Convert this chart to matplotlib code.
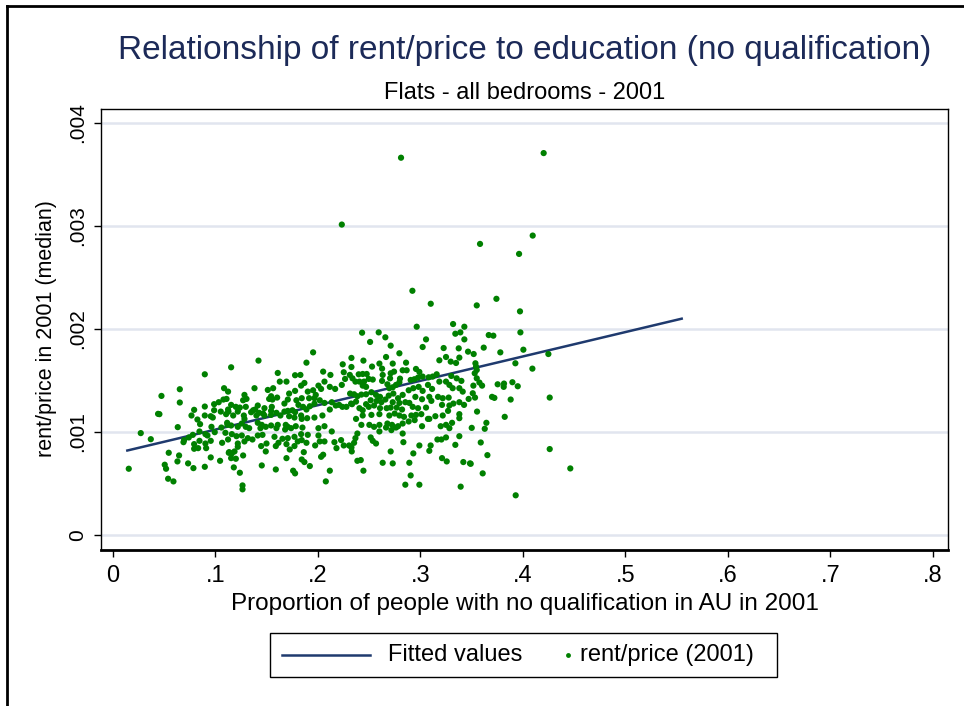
import numpy as np
import matplotlib
matplotlib.use("Agg")
import matplotlib.pyplot as plt
from matplotlib.lines import Line2D
from matplotlib.patches import Rectangle

# rent/price values are written in thousandths (x 1e-3)
# (proportion no qualification, rent/price e3)
pts_a = [
    (0.0896, 1.560), (0.0652, 1.415), (0.0473, 1.350), (0.0652, 1.286), (0.0440, 1.176),
    (0.0453, 1.173), (0.0792, 1.215), (0.0896, 1.247), (0.0987, 1.270), (0.1032, 1.289),
    (0.1078, 1.315), (0.1123, 1.392), (0.1084, 1.425), (0.0766, 1.160), (0.0824, 1.121),
    (0.0850, 1.076), (0.0896, 1.160), (0.0954, 1.153), (0.0987, 1.211), (0.0974, 1.140),
    (0.1052, 1.198), (0.1123, 1.218), (0.1104, 1.173), (0.0632, 1.047), (0.0271, 0.989),
    (0.0369, 0.930), (0.0740, 0.947), (0.0694, 0.921), (0.0688, 0.901), (0.0779, 0.972),
    (0.0844, 1.005), (0.0902, 0.979), (0.0922, 0.966), (0.0961, 1.050), (0.0993, 0.998),
    (0.1058, 1.043), (0.1097, 0.992), (0.1117, 1.069), (0.0844, 0.914), (0.0792, 0.882),
    (0.0831, 0.843), (0.0792, 0.837), (0.0902, 0.888), (0.0909, 0.843), (0.0954, 0.914),
    (0.1065, 0.895), (0.1123, 0.927), (0.0544, 0.798), (0.0645, 0.772), (0.0629, 0.714),
    (0.0733, 0.695), (0.0785, 0.649), (0.0896, 0.662), (0.0954, 0.753), (0.1045, 0.720),
    (0.1130, 0.798), (0.0505, 0.682), (0.0518, 0.643), (0.0154, 0.643), (0.0538, 0.546),
    (0.0590, 0.520),
]
pts_b = [
    (0.1953, 1.773), (0.1420, 1.693), (0.1153, 1.628), (0.1888, 1.673), (0.2242, 1.657),
    (0.2327, 1.719), (0.1381, 1.425), (0.1608, 1.573), (0.1693, 1.489), (0.1628, 1.489),
    (0.1777, 1.551), (0.1829, 1.554), (0.1868, 1.476), (0.1836, 1.450), (0.2051, 1.586),
    (0.2122, 1.554), (0.2064, 1.489), (0.2005, 1.450), (0.2031, 1.418), (0.2116, 1.438),
    (0.2168, 1.418), (0.2252, 1.580), (0.2265, 1.515), (0.2233, 1.457), (0.2311, 1.554),
    (0.2337, 1.521), (0.1511, 1.408), (0.1563, 1.425), (0.1719, 1.373), (0.1777, 1.399),
    (0.1901, 1.392), (0.1953, 1.405), (0.1979, 1.360), (0.1966, 1.328), (0.1914, 1.328),
    (0.1842, 1.328), (0.1790, 1.308), (0.1706, 1.315), (0.1673, 1.276), (0.1602, 1.334),
    (0.1543, 1.347), (0.1524, 1.321), (0.1556, 1.315), (0.1413, 1.257), (0.1387, 1.218),
    (0.1426, 1.186), (0.1368, 1.211), (0.1283, 1.360), (0.1303, 1.321), (0.1270, 1.308),
    (0.1108, 1.321), (0.1153, 1.263), (0.1199, 1.244), (0.1238, 1.237), (0.1296, 1.244),
    (0.1127, 1.198), (0.1218, 1.198), (0.1277, 1.160), (0.1173, 1.160), (0.1348, 1.192),
    (0.1478, 1.231), (0.1465, 1.179), (0.1550, 1.244), (0.1543, 1.205), (0.1595, 1.186),
    (0.1634, 1.160), (0.1673, 1.198), (0.1706, 1.205), (0.1751, 1.211), (0.1777, 1.192),
    (0.1810, 1.263), (0.1855, 1.244), (0.1836, 1.160), (0.1888, 1.218), (0.1921, 1.250),
    (0.1966, 1.276), (0.2018, 1.308), (0.2064, 1.282), (0.2116, 1.218), (0.2135, 1.289),
    (0.2174, 1.257), (0.2207, 1.263), (0.2239, 1.244), (0.2278, 1.244), (0.2324, 1.276),
    (0.2044, 1.160), (0.1966, 1.140), (0.1895, 1.134), (0.1842, 1.127), (0.1719, 1.153),
    (0.1771, 1.140), (0.1543, 1.166), (0.1478, 1.160), (0.1400, 1.160), (0.1283, 1.127),
    (0.1257, 1.082), (0.1296, 1.050), (0.1329, 1.037), (0.1153, 1.063), (0.1218, 1.050),
    (0.1114, 1.089), (0.1452, 1.069), (0.1491, 1.050), (0.1543, 1.063), (0.1608, 1.069),
    (0.1686, 1.069), (0.1706, 1.050), (0.1738, 1.037), (0.1784, 1.056), (0.1849, 1.043),
    (0.1680, 1.024), (0.1595, 1.037), (0.1413, 1.089), (0.1439, 1.037), (0.1160, 0.979),
    (0.1205, 0.959), (0.1257, 0.966), (0.1316, 0.940), (0.1361, 0.927), (0.1283, 0.908),
    (0.1413, 0.966), (0.1459, 0.972), (0.1576, 0.953), (0.1654, 0.934), (0.1706, 0.940),
    (0.1771, 0.953), (0.1836, 0.979), (0.1901, 0.972), (0.2005, 1.037), (0.2064, 1.056),
    (0.2135, 1.005), (0.2005, 0.966), (0.2018, 0.908), (0.1973, 0.869), (0.2064, 0.908),
    (0.2161, 0.901), (0.2181, 0.843), (0.2226, 0.921), (0.2252, 0.869), (0.2304, 0.869),
    (0.2330, 0.811), (0.1218, 0.888), (0.1218, 0.856), (0.1134, 0.804), (0.1160, 0.792),
    (0.1186, 0.811), (0.1199, 0.740), (0.1153, 0.746), (0.1270, 0.772), (0.1446, 0.863),
    (0.1498, 0.888), (0.1589, 0.863), (0.1615, 0.895), (0.1693, 0.882), (0.1725, 0.830),
    (0.1771, 0.863), (0.1803, 0.908), (0.1842, 0.921), (0.1888, 0.895), (0.1862, 0.804),
    (0.1842, 0.733), (0.1868, 0.708), (0.1921, 0.669), (0.1693, 0.746), (0.1491, 0.811),
    (0.1452, 0.675), (0.1589, 0.636), (0.1758, 0.624), (0.1777, 0.598), (0.2051, 0.779),
    (0.2031, 0.759), (0.2116, 0.624), (0.2077, 0.520), (0.1238, 0.604), (0.1264, 0.481),
    (0.1264, 0.443), (0.1179, 0.656),
]
pts_c = [
    (0.2431, 1.964), (0.2593, 1.967), (0.2658, 1.919), (0.2509, 1.874), (0.2710, 1.838),
    (0.3055, 1.899), (0.3022, 1.825), (0.3341, 1.954), (0.3390, 1.967), (0.3429, 1.899),
    (0.3374, 1.812), (0.3465, 1.780), (0.3227, 1.815), (0.2795, 1.764), (0.2665, 1.728),
    (0.2444, 1.693), (0.2600, 1.664), (0.2730, 1.664), (0.2626, 1.615), (0.2860, 1.673),
    (0.3185, 1.696), (0.3250, 1.728), (0.3296, 1.683), (0.3348, 1.670), (0.3380, 1.722),
    (0.2327, 1.631), (0.2398, 1.560), (0.2437, 1.563), (0.2476, 1.563), (0.2528, 1.635),
    (0.2632, 1.554), (0.2710, 1.570), (0.2743, 1.586), (0.2827, 1.599), (0.2866, 1.599),
    (0.2957, 1.612), (0.2990, 1.583), (0.2801, 1.518), (0.2704, 1.521), (0.2496, 1.515),
    (0.2535, 1.509), (0.2626, 1.496), (0.2366, 1.489), (0.2405, 1.489), (0.2450, 1.489),
    (0.2437, 1.450), (0.2470, 1.438), (0.2678, 1.463), (0.2697, 1.425), (0.2730, 1.434),
    (0.2762, 1.457), (0.2795, 1.483), (0.2905, 1.505), (0.2941, 1.512), (0.2977, 1.528),
    (0.3022, 1.538), (0.3081, 1.531), (0.3120, 1.538), (0.3159, 1.560), (0.3185, 1.489),
    (0.3250, 1.489), (0.3302, 1.544), (0.3354, 1.521), (0.3400, 1.496), (0.3283, 1.457),
    (0.3315, 1.425), (0.3380, 1.425), (0.3413, 1.392), (0.2314, 1.373), (0.2353, 1.366),
    (0.2385, 1.347), (0.2424, 1.363), (0.2470, 1.366), (0.2522, 1.386), (0.2567, 1.360),
    (0.2606, 1.341), (0.2658, 1.315), (0.2691, 1.353), (0.2736, 1.373), (0.2782, 1.328),
    (0.2827, 1.360), (0.2886, 1.405), (0.2931, 1.425), (0.2983, 1.438), (0.3022, 1.399),
    (0.3074, 1.457), (0.3114, 1.418), (0.3087, 1.341), (0.3016, 1.318), (0.2951, 1.341),
    (0.2853, 1.289), (0.2892, 1.282), (0.2795, 1.282), (0.2730, 1.289), (0.2619, 1.289),
    (0.2574, 1.302), (0.2515, 1.308), (0.2470, 1.270), (0.2372, 1.295), (0.2333, 1.270),
    (0.2405, 1.231), (0.2437, 1.211), (0.2496, 1.244), (0.2548, 1.257), (0.2606, 1.231),
    (0.2671, 1.231), (0.2710, 1.237), (0.2769, 1.237), (0.2821, 1.218), (0.2925, 1.244),
    (0.2977, 1.231), (0.3055, 1.237), (0.3107, 1.302), (0.3172, 1.341), (0.3218, 1.328),
    (0.3211, 1.263), (0.3276, 1.334), (0.3283, 1.257), (0.3322, 1.276), (0.3380, 1.289),
    (0.3426, 1.263), (0.3471, 1.321), (0.2437, 1.160), (0.2522, 1.166), (0.2600, 1.173),
    (0.2697, 1.160), (0.2749, 1.179), (0.2795, 1.160), (0.2840, 1.147), (0.2912, 1.160),
    (0.2957, 1.166), (0.3009, 1.173), (0.3074, 1.127), (0.3146, 1.153), (0.3218, 1.160),
    (0.3270, 1.205), (0.3380, 1.173), (0.3380, 1.134), (0.2372, 1.127), (0.2424, 1.069),
    (0.2502, 1.069), (0.2548, 1.050), (0.2600, 1.069), (0.2678, 1.082), (0.2723, 1.069),
    (0.2782, 1.056), (0.2827, 1.082), (0.2886, 1.102), (0.2944, 1.115), (0.3016, 1.056),
    (0.3087, 1.127), (0.3198, 1.056), (0.3250, 1.069), (0.3283, 1.037), (0.3309, 1.089),
    (0.2600, 1.005), (0.2665, 1.043), (0.2717, 1.018), (0.2762, 1.043), (0.2385, 0.985),
    (0.2366, 0.940), (0.2353, 0.895), (0.2327, 0.850), (0.2515, 0.947), (0.2535, 0.914),
    (0.2567, 0.888), (0.2827, 0.985), (0.2834, 0.901), (0.2990, 0.869), (0.3100, 0.869),
    (0.3087, 0.817), (0.3166, 0.927), (0.3205, 0.927), (0.3250, 0.947), (0.3341, 0.875),
    (0.3380, 0.959), (0.2710, 0.811), (0.2931, 0.792), (0.2385, 0.720), (0.2418, 0.727),
    (0.2632, 0.701), (0.2730, 0.695), (0.2892, 0.701), (0.3211, 0.746), (0.3257, 0.714),
    (0.3419, 0.708), (0.3484, 0.695), (0.2444, 0.624), (0.2905, 0.578), (0.2853, 0.488),
    (0.2990, 0.488), (0.3393, 0.469),
]
pts_d = [
    (0.3667, 1.941), (0.3712, 1.935), (0.3976, 1.967), (0.3618, 1.819), (0.3520, 1.757),
    (0.3780, 1.773), (0.4005, 1.799), (0.4249, 1.757), (0.3927, 1.667), (0.3537, 1.667),
    (0.3543, 1.635), (0.3550, 1.602), (0.3530, 1.570), (0.4093, 1.615), (0.3550, 1.521),
    (0.3576, 1.480), (0.3602, 1.450), (0.3517, 1.450), (0.3754, 1.463), (0.3816, 1.470),
    (0.3813, 1.438), (0.3898, 1.483), (0.3950, 1.444), (0.3511, 1.376), (0.3533, 1.334),
    (0.3699, 1.341), (0.3722, 1.331), (0.3881, 1.315), (0.4262, 1.334), (0.3553, 1.198),
    (0.3823, 1.147), (0.3644, 1.089), (0.3628, 1.031), (0.3501, 1.040), (0.3589, 0.898),
    (0.4262, 0.834), (0.3654, 0.775), (0.3491, 0.691), (0.3608, 0.598), (0.4463, 0.646),
    (0.3930, 0.385),
]
pts_high = [
    (0.2811, 3.663), (0.4203, 3.708), (0.2233, 3.014), (0.4096, 2.907), (0.3582, 2.826),
    (0.3963, 2.729), (0.2922, 2.371), (0.3101, 2.245), (0.3550, 2.229), (0.3742, 2.293),
    (0.3972, 2.171), (0.2964, 2.022), (0.3319, 2.048), (0.3429, 2.022),
]

# fitted line end points
fit_x = [0.014, 0.555]
fit_y = [0.82, 2.10]

xticks = [0, .1, .2, .3, .4, .5, .6, .7, .8]
xticklabels = ["0", ".1", ".2", ".3", ".4", ".5", ".6", ".7", ".8"]
yticks = [0, .001, .002, .003, .004]
yticklabels = ["0", ".001", ".002", ".003", ".004"]
legend_labels = ["Fitted values", "rent/price (2001)"]

pts = np.array(pts_a + pts_b + pts_c + pts_d + pts_high)
px = pts[:, 0]
py = pts[:, 1] * 1e-3

fam = ["Liberation Sans", "DejaVu Sans"]

navy = "#1f3a6e"
green = "#008000"

fig = plt.figure(figsize=(9.64, 7.06), dpi=100)
ax = fig.add_axes([101/964, 1-550/706, (948-101)/964, (550-109)/706])

for t in yticks:
    ax.axhline(t, color="#e1e5ef", lw=1.8, zorder=0)

ax.plot(fit_x, np.array(fit_y)*1e-3, color=navy, lw=1.8, zorder=2)
ax.scatter(px, py, s=20, color=green, edgecolors="none", zorder=3)

ax.set_xlim(-0.0117, 0.8149)
ax.set_ylim(-0.000146, 0.004136)

ax.set_xticks(xticks)
ax.set_xticklabels(xticklabels, family=fam, fontsize=17)
ax.set_yticks(yticks)
ax.set_yticklabels(yticklabels, family=fam, fontsize=15, rotation=90, va="center")
ax.tick_params(axis="both", direction="out", length=5, width=1, color="black")
ax.tick_params(axis="x", pad=6)
ax.tick_params(axis="y", pad=5)

for s in ["top", "right", "left"]:
    ax.spines[s].set_linewidth(1.0)
ax.spines["bottom"].set_linewidth(2.0)

fig.text(0.5441, 1-51/706, "Relationship of rent/price to education (no qualification)",
         ha="center", va="center", fontsize=24, color="#1c2a58", family=fam)
fig.text(0.5441, 1-93/706, "Flats - all bedrooms - 2001",
         ha="center", va="center", fontsize=17, color="black", family=fam)
fig.text(0.5441, 1-604/706, "Proportion of people with no qualification in AU in 2001",
         ha="center", va="center", fontsize=17.5, family=fam)
fig.text(47/964, 1-329/706, "rent/price in 2001 (median)", rotation=90,
         ha="center", va="center", fontsize=15.5, family=fam)

# legend box drawn by hand (Stata style: short dot key next to long line key)
tf = fig.transFigure
fig.add_artist(Rectangle((270/964, 1-677/706), 507/964, 44/706, transform=tf,
                         facecolor="white", edgecolor="black", lw=1.0))
fig.add_artist(Line2D([282/964, 370/964], [1-655/706, 1-655/706], transform=tf,
                      color=navy, lw=1.8))
fig.text(388/964, 1-655/706, legend_labels[0], ha="left", va="center", fontsize=17, family=fam)
fig.add_artist(Line2D([568/964], [1-655/706], transform=tf, color=green, marker="o",
                      markersize=3.5, markeredgewidth=0, ls="none"))
fig.text(580/964, 1-655/706, legend_labels[1], ha="left", va="center", fontsize=17, family=fam)

# outer frame on top and left
fig.add_artist(Line2D([7/964, 1], [1-6/706, 1-6/706], transform=tf, color="black", lw=2))
fig.add_artist(Line2D([7/964, 7/964], [0, 1-6/706], transform=tf, color="black", lw=2))

fig.savefig("out.png", dpi=100, facecolor="white")
